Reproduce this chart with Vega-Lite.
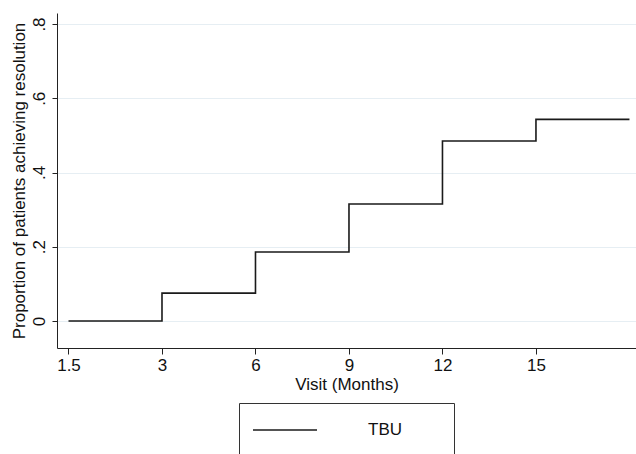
{
  "$schema": "https://vega.github.io/schema/vega-lite/v6.json",
  "width": 579,
  "height": 335,
  "autosize": {"type": "none"},
  "padding": {"left": 57, "top": 13, "right": 0, "bottom": 106},
  "background": "white",
  "config": {
    "font": "Liberation Sans",
    "view": {"stroke": null},
    "axis": {"labelFont": "Liberation Sans", "titleFont": "Liberation Sans", "labelColor": "#111", "titleColor": "#111", "titleFontWeight": "normal"}
  },
  "data": {
    "values": [
      {"pos": 0, "visit": "1.5", "proportion": 0, "group": "TBU"},
      {"pos": 1, "visit": "3", "proportion": 0.075, "group": "TBU"},
      {"pos": 2, "visit": "6", "proportion": 0.186, "group": "TBU"},
      {"pos": 3, "visit": "9", "proportion": 0.315, "group": "TBU"},
      {"pos": 4, "visit": "12", "proportion": 0.485, "group": "TBU"},
      {"pos": 5, "visit": "15", "proportion": 0.543, "group": "TBU"},
      {"pos": 6, "visit": "18", "proportion": 0.543, "group": "TBU"}
    ]
  },
  "mark": {"type": "line", "interpolate": "step-after", "strokeWidth": 1.6},
  "encoding": {
    "x": {
      "field": "pos",
      "type": "quantitative",
      "scale": {"domain": [-0.123, 6.07], "nice": false, "zero": false},
      "axis": {
        "title": "Visit (Months)",
        "values": [0, 1, 2, 3, 4, 5],
        "labelExpr": "['1.5','3','6','9','12','15'][datum.value]",
        "grid": false,
        "domainColor": "#222",
        "tickColor": "#222",
        "tickSize": 6,
        "labelFontSize": 17,
        "labelPadding": 3,
        "titleFontSize": 17,
        "titlePadding": 3,
        "labelFlush": false
      }
    },
    "y": {
      "field": "proportion",
      "type": "quantitative",
      "scale": {"domain": [-0.0728, 0.8297], "nice": false, "zero": false},
      "axis": {
        "title": "Proportion of patients achieving resolution",
        "values": [0, 0.2, 0.4, 0.6, 0.8],
        "labelExpr": "datum.value == 0 ? '0' : slice(format(datum.value, '.1f'), 1)",
        "grid": true,
        "gridColor": "#e6eef3",
        "gridWidth": 1,
        "domainColor": "#222",
        "tickColor": "#222",
        "tickSize": 5,
        "labelAngle": -90,
        "labelAlign": "center",
        "labelBaseline": "bottom",
        "labelFontSize": 17,
        "labelPadding": 4,
        "titleFontSize": 17,
        "titlePadding": 2,
        "labelFlush": false
      }
    },
    "color": {
      "field": "group",
      "type": "nominal",
      "scale": {"range": ["#1a1a1a"]},
      "legend": {
        "title": null,
        "orient": "none",
        "legendX": 182,
        "legendY": 390,
        "strokeColor": "#333",
        "padding": 18,
        "symbolType": "M-4,0H4",
        "symbolSize": 256,
        "symbolOffset": 19,
        "symbolStrokeWidth": 1.6,
        "symbolFillColor": "transparent",
        "labelFontSize": 17,
        "labelOffset": 74,
        "labelColor": "#111",
        "labelExpr": "datum.label + '\u2003\u2003\u200b'"
      }
    }
  }
}
